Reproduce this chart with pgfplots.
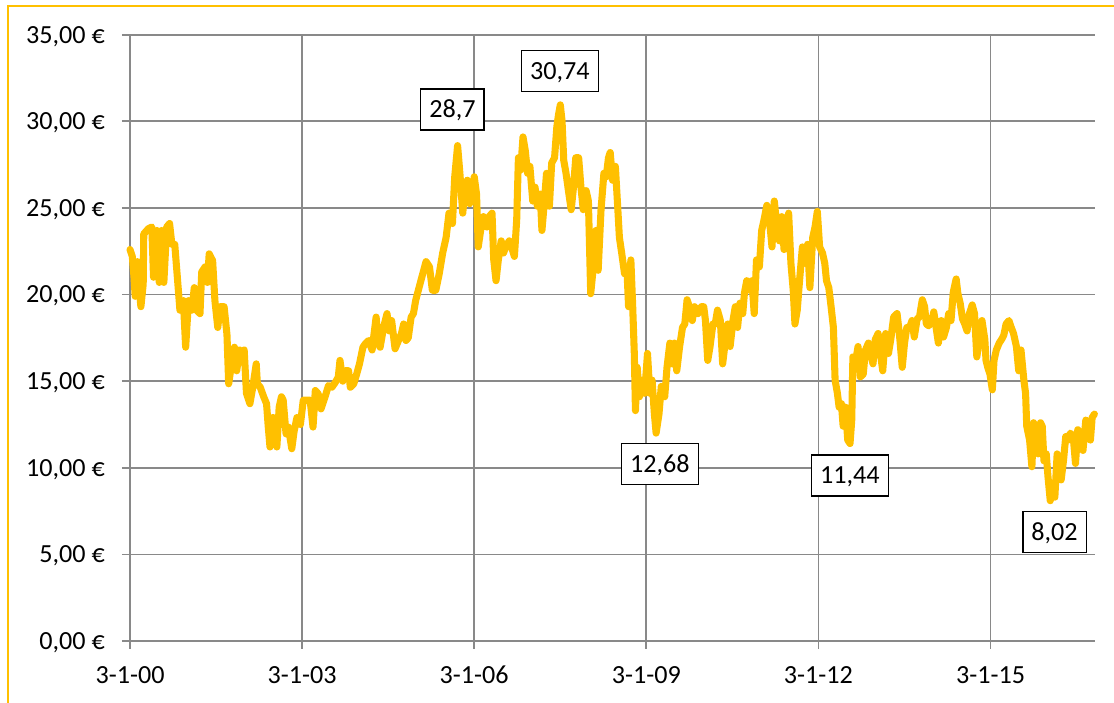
\documentclass[border=0pt]{standalone}
\usepackage{fontspec}
\setmainfont{Carlito}
\usepackage{pgfplots}
\usepackage{pgfplotstable}
\pgfplotsset{compat=1.18}
\definecolor{gold}{HTML}{FFC000}
\definecolor{gridgray}{HTML}{898989}
\pgfplotstableread{
x y
0.00 22.6
0.04 22.2
0.07 21.0
0.09 19.9
0.13 21.9
0.16 20.4
0.19 19.3
0.23 20.6
0.24 23.5
0.32 23.8
0.38 23.9
0.41 21.0
0.47 23.7
0.51 20.7
0.55 23.7
0.59 20.7
0.64 23.9
0.69 24.1
0.73 22.9
0.78 22.9
0.83 20.8
0.87 19.1
0.93 19.65
0.97 16.96
1.02 19.65
1.08 19.1
1.12 20.4
1.16 19.1
1.22 18.9
1.25 21.3
1.31 21.6
1.35 20.7
1.38 22.35
1.44 21.96
1.48 19.65
1.53 18.1
1.57 19.3
1.64 19.3
1.69 17.7
1.72 14.85
1.77 16.0
1.82 16.96
1.86 15.6
1.91 16.8
1.95 16.6
1.99 16.8
2.03 14.3
2.09 13.7
2.14 14.65
2.20 16.0
2.22 14.85
2.27 14.65
2.33 14.1
2.38 13.7
2.41 12.35
2.44 11.2
2.49 12.9
2.53 12.7
2.56 11.2
2.60 13.5
2.64 14.1
2.67 13.9
2.72 11.96
2.76 12.35
2.82 11.1
2.86 12.1
2.91 12.9
2.97 12.5
3.02 13.9
3.08 13.9
3.14 13.9
3.19 12.35
3.23 14.46
3.28 14.27
3.33 13.4
3.40 14.1
3.46 14.75
3.52 14.65
3.58 14.94
3.63 15.23
3.66 16.2
3.71 15.0
3.75 15.6
3.81 15.6
3.84 14.65
3.90 14.85
3.95 15.4
4.00 16.0
4.06 16.96
4.10 17.15
4.16 17.35
4.22 16.8
4.24 17.35
4.29 18.7
4.33 17.15
4.36 16.96
4.42 18.1
4.48 18.9
4.52 17.9
4.56 18.5
4.62 16.87
4.68 17.35
4.73 17.73
4.77 18.3
4.81 17.35
4.85 17.5
4.90 18.7
4.94 18.9
4.98 19.67
5.07 20.8
5.16 21.9
5.22 21.6
5.27 20.25
5.33 20.25
5.39 21.2
5.45 22.4
5.51 23.3
5.56 24.7
5.62 24.1
5.66 26.8
5.71 28.6
5.75 27.0
5.80 24.7
5.84 26.2
5.88 26.6
5.92 25.25
5.96 25.6
6.00 26.8
6.04 25.8
6.07 22.75
6.12 23.9
6.16 24.5
6.22 23.9
6.26 24.5
6.31 24.7
6.34 22.0
6.38 20.8
6.42 22.0
6.47 23.1
6.51 22.4
6.55 22.75
6.61 23.1
6.65 22.75
6.70 22.2
6.74 24.3
6.77 27.9
6.81 27.2
6.85 29.1
6.89 28.3
6.93 27.0
6.97 27.4
7.02 25.4
7.06 26.2
7.10 25.1
7.15 25.8
7.18 23.7
7.22 25.25
7.26 27.0
7.31 25.1
7.35 27.6
7.40 27.9
7.44 29.7
7.47 30.4
7.50 30.95
7.53 30.05
7.56 27.75
7.60 27.0
7.65 25.8
7.69 24.9
7.73 26.2
7.77 27.9
7.82 27.9
7.86 26.2
7.90 24.9
7.95 26.0
7.99 25.4
8.03 20.05
8.07 21.4
8.12 23.7
8.16 21.4
8.21 24.9
8.26 27.0
8.30 26.8
8.34 27.9
8.37 28.2
8.41 26.6
8.46 27.4
8.50 25.1
8.53 23.3
8.57 22.4
8.62 21.2
8.66 21.6
8.69 19.3
8.73 22.0
8.76 19.5
8.79 16.6
8.81 13.3
8.84 15.8
8.88 14.1
8.93 15.06
8.97 14.3
9.02 16.6
9.06 14.3
9.10 15.06
9.14 13.1
9.17 12.0
9.22 13.1
9.26 14.7
9.32 14.1
9.36 15.8
9.41 17.2
9.45 16.0
9.49 17.2
9.53 15.6
9.58 17.0
9.63 18.1
9.67 18.3
9.71 19.7
9.75 19.3
9.80 18.5
9.84 19.3
9.90 18.9
9.96 19.3
10.00 19.3
10.03 18.5
10.07 16.2
10.11 17.0
10.16 18.3
10.20 18.3
10.24 19.1
10.29 18.5
10.33 16.0
10.38 17.4
10.42 18.3
10.46 17.0
10.51 18.5
10.55 19.3
10.59 18.1
10.63 19.5
10.68 18.9
10.71 20.1
10.75 20.8
10.80 20.25
10.84 20.8
10.88 18.9
10.92 22.0
10.97 21.6
11.01 23.7
11.05 24.3
11.10 25.15
11.14 24.5
11.19 22.75
11.23 25.4
11.27 24.1
11.32 23.1
11.36 24.5
11.40 22.6
11.44 23.5
11.48 24.7
11.52 21.8
11.56 20.25
11.59 18.3
11.63 19.1
11.67 20.8
11.72 22.75
11.77 21.8
11.81 22.9
11.85 20.4
11.90 23.3
11.94 23.9
11.98 24.8
12.02 22.75
12.07 22.4
12.11 21.8
12.14 20.8
12.18 20.4
12.22 19.3
12.26 18.1
12.29 15.06
12.33 14.3
12.36 13.5
12.40 13.7
12.43 12.4
12.47 13.5
12.51 11.6
12.55 11.4
12.58 12.75
12.60 16.4
12.65 16.2
12.69 17.0
12.73 15.25
12.78 15.4
12.82 16.8
12.87 17.2
12.91 16.6
12.95 16.0
12.99 17.4
13.04 17.75
13.08 16.6
13.12 15.6
13.17 17.75
13.22 16.6
13.26 17.4
13.31 18.7
13.37 18.9
13.41 17.75
13.46 15.8
13.50 17.2
13.54 18.1
13.59 18.1
13.63 18.5
13.67 17.55
13.72 18.6
13.76 18.7
13.81 19.7
13.85 19.3
13.88 18.3
13.92 18.2
13.97 18.4
14.01 19.0
14.05 18.1
14.09 17.2
14.14 18.5
14.18 17.55
14.23 18.1
14.27 18.9
14.31 18.5
14.35 20.15
14.40 20.9
14.43 20.06
14.47 19.5
14.51 18.6
14.55 18.3
14.59 17.9
14.63 18.9
14.68 19.4
14.72 18.9
14.76 16.4
14.81 17.55
14.85 18.5
14.90 17.4
14.92 16.2
14.95 15.8
14.99 15.4
15.03 14.5
15.06 16.2
15.10 16.8
15.15 17.2
15.19 17.4
15.23 17.65
15.27 18.3
15.32 18.5
15.36 18.1
15.40 17.75
15.45 17.0
15.49 15.6
15.53 16.8
15.58 15.06
15.61 14.3
15.63 12.4
15.68 11.6
15.72 10.06
15.75 12.6
15.80 12.0
15.83 10.8
15.87 12.6
15.90 12.4
15.93 10.4
15.97 10.8
16.00 9.5
16.04 8.1
16.08 8.9
16.12 8.3
16.16 10.8
16.19 10.25
16.23 9.3
16.27 10.4
16.31 11.8
16.35 11.6
16.39 12.0
16.44 11.8
16.48 10.25
16.52 12.2
16.56 12.0
16.61 11.0
16.66 12.75
16.70 12.4
16.74 11.6
16.77 12.9
16.81 13.1
}\pricedata
\begin{document}
\begin{tikzpicture}[x=1pt,y=1pt]
\useasboundingbox (0,0) rectangle (835.5,527.25);
\draw[gold, line width=1.6pt] (6,-5) -- (6,522.75) -- (845,522.75);
\begin{axis}[
  at={(97.5pt,46.5pt)}, anchor=south west,
  scale only axis, width=723.75pt, height=454.7pt,
  xmin=0, xmax=16.82, ymin=0, ymax=35,
  axis x line*=bottom, axis y line*=left,
  axis line style={gridgray, line width=1.3pt},
  every tick/.style={gridgray, line width=1.3pt},
  major tick length=6pt, tick align=outside,
  grid=major, major grid style={gridgray, line width=1.3pt},
  xtick={0,3,6,9,12,15},
  xticklabels={3-1-00,3-1-03,3-1-06,3-1-09,3-1-12,3-1-15},
  ytick={0,5,10,15,20,25,30,35},
  yticklabels={{0,00 €},{5,00 €},{10,00 €},{15,00 €},{20,00 €},{25,00 €},{30,00 €},{35,00 €}},
  tick label style={font=\fontsize{19.6pt}{23pt}\selectfont, text height=12.5pt, text depth=0pt, inner sep=0pt},
  xticklabel style={yshift=-13.5pt},
  yticklabel style={xshift=-12.75pt},
  clip=false,
]
\addplot[gold, line width=5.3pt, line join=round, line cap=round] table[x=x,y=y] {\pricedata};
\begin{scope}[every node/.style={draw=black, line width=1.1pt, fill=white, font=\fontsize{19.6pt}{23pt}\selectfont, text height=12.5pt, text depth=0pt, inner xsep=6.5pt, minimum height=30.75pt}]
\node at (axis cs:5.62,30.68) {28,7};
\node at (axis cs:7.494,32.91) {30,74};
\node at (axis cs:9.237,10.22) {12,68};
\node at (axis cs:12.548,9.56) {11,44};
\node at (axis cs:16.115,6.29) {8,02};
\end{scope}
\end{axis}
\end{tikzpicture}
\end{document}
